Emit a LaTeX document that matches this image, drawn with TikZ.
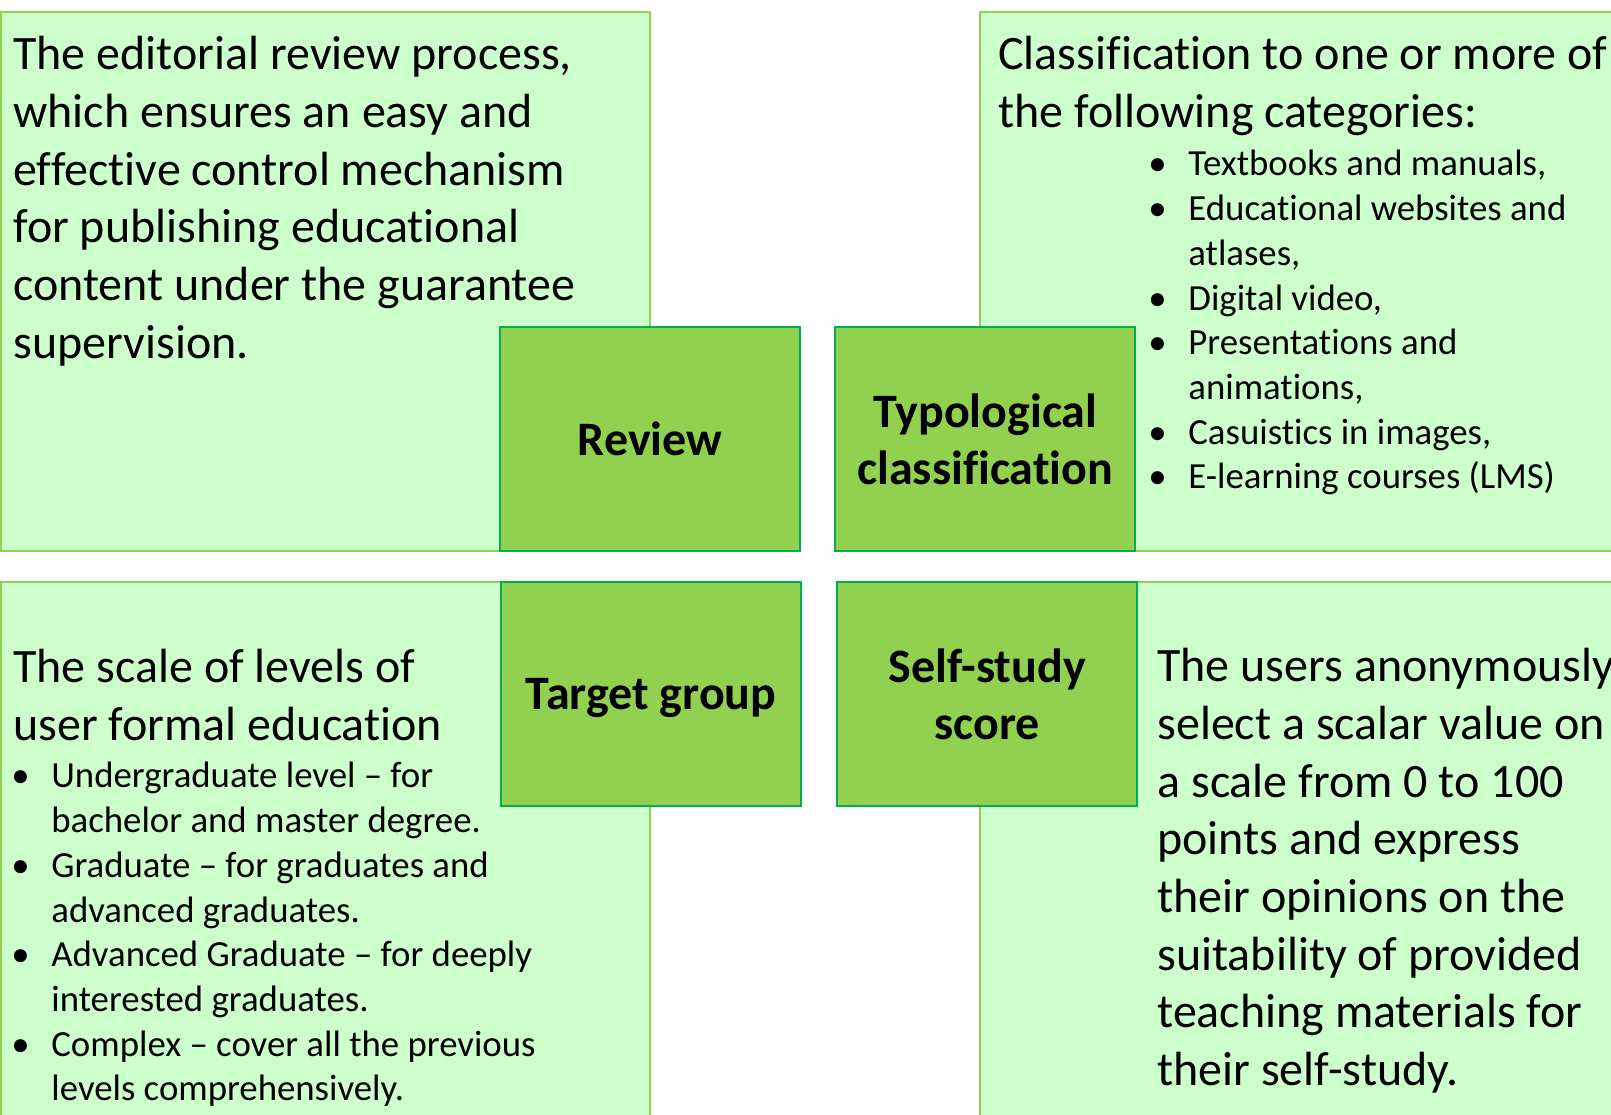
\documentclass[tikz,border=0pt]{standalone}
\usepackage{fontspec}
\setmainfont[Ligatures=NoCommon]{Carlito}
\usepackage{xcolor}
\usepackage{tikz}
\usetikzlibrary{positioning}
\definecolor{PaleGreen}{HTML}{CCFFCC}
\definecolor{LeafGreen}{HTML}{92D050}
\definecolor{DeepGreen}{HTML}{00B050}
\newcommand{\bulitem}{\makebox[20pt][l]{\textbullet}}
\newcommand{\bulcont}{\hspace*{20pt}}

\begin{document}
\begin{tikzpicture}[x=0.5pt,y=-0.5pt,
  pale/.style={draw=LeafGreen,line width=1pt,fill=PaleGreen,anchor=north west,inner sep=0pt,minimum height=269.5pt},
  hub/.style={draw=DeepGreen,line width=1.2pt,fill=LeafGreen,anchor=north west,align=center,inner sep=0pt,
    minimum width=150pt,minimum height=112pt,font=\fontsize{24}{28.3}\selectfont\bfseries},
  bigtxt/.style={anchor=north west,align=left,inner sep=0pt,font=\fontsize{24}{28.85}\selectfont},
  listtxt/.style={anchor=north west,align=left,inner sep=0pt,font=\fontsize{18.4}{22.35}\selectfont}]
  \useasboundingbox (0,0) rectangle (1611,1114);
  \clip (0,0) rectangle (1611,1114);
  % pale description panels
  \node[pale,minimum width=324.5pt] (revpanel) at (0,11) {};
  \node[pale,minimum width=320.5pt] (typpanel) at (979,11) {};
  \node[pale,minimum width=324.5pt] (tgtpanel) at (0,581) {};
  \node[pale,minimum width=320.5pt] (selfpanel) at (979,581) {};
  % central green boxes
  \node[hub] (review) at (499,326) {Review};
  \node[hub] (typo) at (834,326) {Typological\\classification};
  \node[hub,text depth=0pt] (target) at (500,581) {Target group};
  \node[hub] (self) at (836,581) {Self-study\\score};
  % texts
  \node[bigtxt] (revtxt) at (13,36)
    {The editorial review process,\\which ensures an easy and\\effective control mechanism\\for publishing educational\\content under the guarantee\\supervision.};
  \node[bigtxt] (typtxt) at (998,36) {Classification to one or more of\\the following categories:};
  \node[listtxt] (typlist) at (1148,150)
    {\bulitem Textbooks and manuals,\\\bulitem Educational websites and\\\bulcont atlases,\\\bulitem Digital video,\\
     \bulitem Presentations and\\\bulcont animations,\\\bulitem Casuistics in images,\\\bulitem E-learning courses (LMS)};
  \node[bigtxt] (tgttxt) at (13,649) {The scale of levels of\\user formal education};
  \node[listtxt] (tgtlist) at (11,762)
    {\bulitem Undergraduate level -- for\\\bulcont bachelor and master degree.\\\bulitem Graduate -- for graduates and\\\bulcont advanced graduates.\\
     \bulitem Advanced Graduate -- for deeply\\\bulcont interested graduates.\\\bulitem Complex -- cover all the previous\\\bulcont levels comprehensively.};
  \node[bigtxt] (selftxt) at (1157,648)
    {The users anonymously\\select a scalar value on\\a scale from 0 to 100\\points and express\\their opinions on the\\suitability of provided\\teaching materials for\\their self-study.};
\end{tikzpicture}
\end{document}
